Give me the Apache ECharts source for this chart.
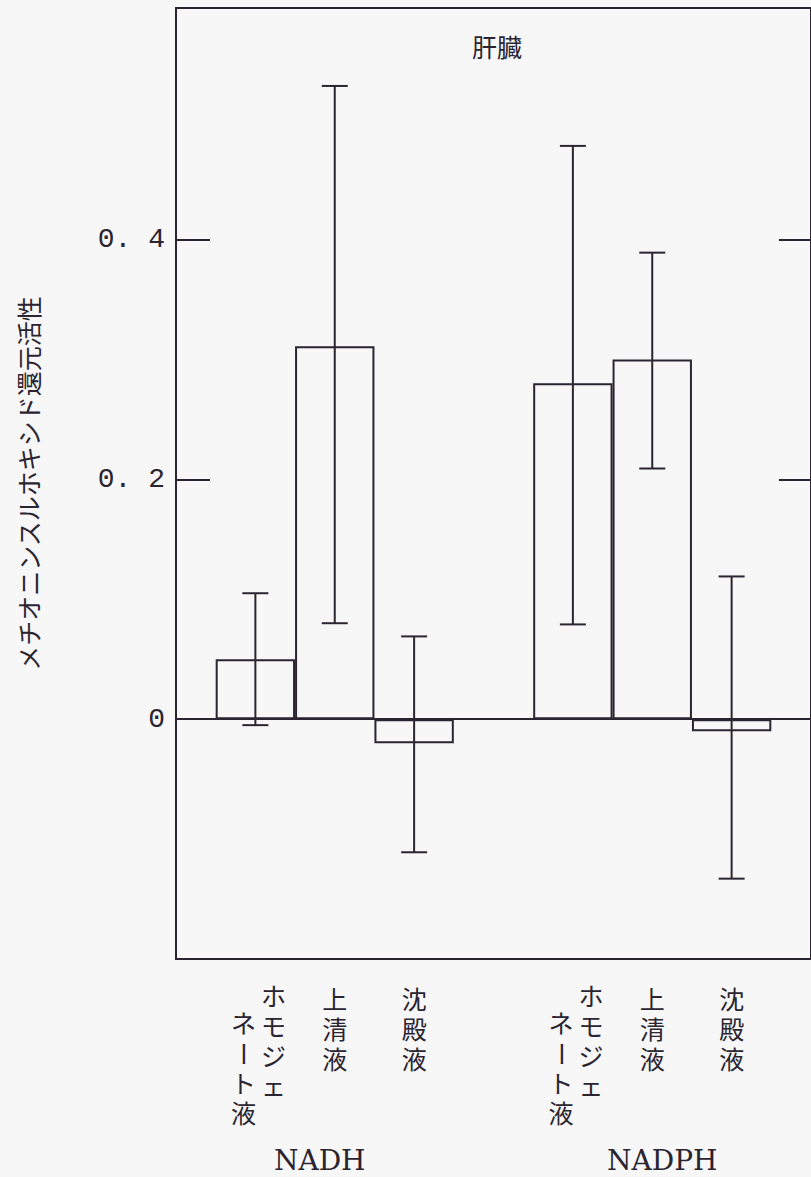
<!DOCTYPE html>
<html>
<head>
<meta charset="utf-8">
<script src="https://cdn.jsdelivr.net/npm/echarts@6/dist/echarts.min.js"></script>
<style>
html,body{margin:0;padding:0;background:#f7f7f8;}
#c{width:811px;height:1177px;}
</style>
</head>
<body>
<div id="c"></div>
<script>
// ---- data ----
const chartTitle = '肝臓';
const yAxisName = 'メチオニンスルホキシド還元活性';
const groups = ['NADH', 'NADPH'];
const categories = ['ホモジェネート液', '上清液', '沈殿液'];
const meanValues = [0.050, 0.311, -0.020, 0.280, 0.300, -0.010];
const errUpper   = [0.105, 0.528, 0.069, 0.478, 0.389, 0.119];
const errLower   = [-0.005, 0.080, -0.111, 0.079, 0.209, -0.133];
const yTickValues = [0, 0.2, 0.4];
const yTickLabels = ['0', '0. 2', '0. 4'];

// ---- build ----
const ink = '#2a2530';
const slots = [];
const barSlot = [];
groups.forEach((g, gi) => {
  slots.push('');
  categories.forEach((c, ci) => {
    barSlot.push(slots.length);
    slots.push(c);
  });
});
slots.push('');

const barData = slots.map(() => null);
barSlot.forEach((s, i) => { barData[s] = meanValues[i]; });
const errData = barSlot.map((s, i) => [s, errLower[i], errUpper[i]]);

function tickLabel(v) {
  for (let i = 0; i < yTickValues.length; i++) {
    if (Math.abs(v - yTickValues[i]) < 1e-6) return yTickLabels[i];
  }
  return '';
}

const chart = echarts.init(document.getElementById('c'), null, {renderer: 'svg'});
const yMin = -0.2, yMax = 0.593;

chart.setOption({
  backgroundColor: '#f7f7f8',
  animation: false,
  title: {
    text: chartTitle, left: 472, top: 33, padding: 0,
    textStyle: {fontFamily: 'Noto Sans CJK JP', fontSize: 25, fontWeight: 'normal', color: ink}
  },
  grid: {
    left: 176, top: 8, width: 638, height: 951,
    show: true, borderColor: ink, borderWidth: 2, backgroundColor: 'transparent'
  },
  xAxis: [{
    type: 'category', data: slots, boundaryGap: false,
    axisLine: {show: true, onZero: true, lineStyle: {color: ink, width: 2}},
    axisTick: {show: false}, axisLabel: {show: false}, splitLine: {show: false}
  }],
  yAxis: [{
    type: 'value', position: 'left', min: yMin, max: yMax, interval: 0.2,
    axisLine: {show: true, onZero: false, lineStyle: {color: ink, width: 2}},
    axisTick: {show: true, inside: true, length: 34, customValues: yTickValues, lineStyle: {color: ink, width: 2}},
    axisLabel: {
      show: true, customValues: yTickValues, formatter: tickLabel, margin: 11,
      color: ink, fontFamily: 'Liberation Mono', fontSize: 28
    },
    splitLine: {show: false},
    name: yAxisName, nameLocation: 'middle', nameRotate: 90, nameGap: 136,
    nameTextStyle: {fontFamily: 'Noto Sans CJK JP', fontSize: 25, color: ink}
  }, {
    type: 'value', position: 'right', min: yMin, max: yMax, interval: 0.2,
    axisLine: {show: true, onZero: false, lineStyle: {color: ink, width: 2}},
    axisTick: {show: true, inside: true, length: 32, customValues: yTickValues, lineStyle: {color: ink, width: 2}},
    axisLabel: {show: false}, splitLine: {show: false}
  }],
  series: [{
    type: 'bar', data: barData, barWidth: '100%',
    itemStyle: {color: 'rgba(0,0,0,0)', borderColor: ink, borderWidth: 2},
    z: 2
  }, {
    type: 'custom', data: errData, z: 3,
    renderItem: function (params, api) {
      const x = api.value(0);
      const lo = api.coord([x, api.value(1)]);
      const hi = api.coord([x, api.value(2)]);
      const cap = 13;
      const st = {stroke: ink, lineWidth: 2, fill: null};
      return {type: 'group', children: [
        {type: 'line', shape: {x1: lo[0], y1: lo[1], x2: hi[0], y2: hi[1]}, style: st},
        {type: 'line', shape: {x1: lo[0] - cap, y1: lo[1], x2: lo[0] + cap, y2: lo[1]}, style: st},
        {type: 'line', shape: {x1: hi[0] - cap, y1: hi[1], x2: hi[0] + cap, y2: hi[1]}, style: st}
      ]};
    }
  }]
});

// ---- vertical category labels and group labels ----
const bottomY = chart.convertToPixel({yAxisIndex: 0}, yMin);
const cjkFont = '25px "Liberation Sans", "Noto Sans CJK JP", sans-serif';
const pitch = 30;
const graphics = [];
function addChar(ch, x, y) {
  graphics.push({
    type: 'text', x: x, y: y, rotation: ch === 'ー' ? -Math.PI / 2 : 0,
    style: {text: ch, font: cjkFont, fill: ink, align: 'center', verticalAlign: 'middle'}
  });
}
const groupShift = [-15, 10];
groups.forEach((g, gi) => {
  const centers = [];
  categories.forEach((c, ci) => {
    const slot = barSlot[gi * categories.length + ci];
    const cx = chart.convertToPixel({xAxisIndex: 0}, slot);
    centers.push(cx);
    const chars = Array.from(c);
    if (chars.length > 4) {
      chars.slice(0, 4).forEach((ch, k) => addChar(ch, cx + 18, bottomY + 38 + k * pitch));
      chars.slice(4).forEach((ch, k) => addChar(ch, cx - 12, bottomY + 65 + k * pitch));
    } else {
      chars.forEach((ch, k) => addChar(ch, cx, bottomY + 41 + k * pitch));
    }
  });
  const mid = (centers[0] + centers[centers.length - 1]) / 2;
  graphics.push({
    type: 'text', x: mid + groupShift[gi], y: bottomY + 201,
    style: {text: g, font: '28px "DejaVu Serif"', fill: ink, align: 'center', verticalAlign: 'middle'}
  });
});
chart.setOption({graphic: graphics});
</script>
</body>
</html>
